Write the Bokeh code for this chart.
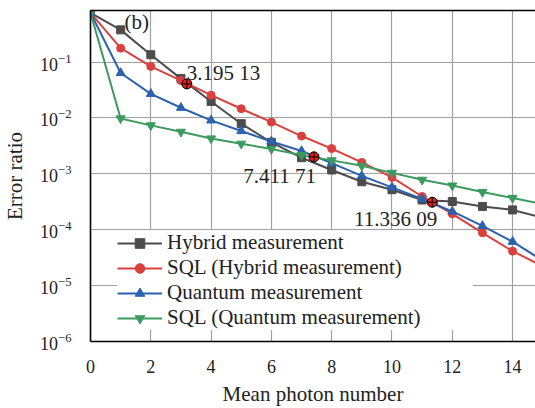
from bokeh.plotting import figure
from bokeh.models import Range1d, FixedTicker, Legend, LegendItem, Label, LinearAxis, LogTickFormatter
from bokeh.embed import file_html
from bokeh.resources import INLINE

# ---------------- data ----------------
photon_number = [0, 1, 2, 3, 4, 5, 6, 7, 8, 9, 10, 11, 12, 13, 14, 15]
hybrid = [0.76, 0.376, 0.135, 0.0505, 0.0197, 0.00788, 0.00366, 0.00194, 0.00117,
          7.21e-4, 5.19e-4, 3.40e-4, 3.20e-4, 2.61e-4, 2.26e-4, 1.63e-4]
sql_hybrid = [0.76, 0.177, 0.0835, 0.0465, 0.0255, 0.0146, 0.00841, 0.00474, 0.00283,
              0.00160, 8.63e-4, 3.93e-4, 1.92e-4, 8.81e-5, 4.13e-5, 2.23e-5]
quantum = [0.76, 0.0637, 0.0270, 0.0152, 0.00904, 0.00582, 0.00379, 0.00256, 0.00155,
           9.2e-4, 5.73e-4, 3.55e-4, 2.12e-4, 1.17e-4, 6.10e-5, 2.80e-5]
sql_quantum = [0.76, 0.0098, 0.00736, 0.00564, 0.00428, 0.00345, 0.00278, 0.00216, 0.00174,
               0.00139, 0.00104, 7.81e-4, 6.16e-4, 4.72e-4, 3.70e-4, 2.89e-4]
cross_x = [3.19513, 7.41171, 11.33609]
cross_y = [0.0406, 0.00201, 3.10e-4]
cross_labels = ["3.195 13", "7.411 71", "11.336 09"]
series_names = ["Hybrid measurement", "SQL (Hybrid measurement)",
                "Quantum measurement", "SQL (Quantum measurement)"]
x_ticks = [0, 2, 4, 6, 8, 10, 12, 14]
y_ticks = [1e-6, 1e-5, 1e-4, 1e-3, 1e-2, 1e-1]
panel_tag = "(b)"
x_title = "Mean photon number"
y_title = "Error ratio"

# ---------------- style ----------------
FONT = "Liberation Serif"
colors = ["#4c4c4c", "#d9403e", "#2b62ad", "#3d9a5e"]
markers = ["square", "circle", "triangle", "inverted_triangle"]
msizes = [8, 8, 9, 9]

p = figure(width=535, height=408, output_backend="svg", toolbar_location=None,
           y_axis_type="log",
           x_range=Range1d(0, 14.76), y_range=Range1d(1e-6, 0.835),
           min_border_left=90, min_border_right=0, min_border_top=10, min_border_bottom=65)
p.outline_line_color = None
p.background_fill_color = "white"
p.border_fill_color = "white"

# grid
p.xgrid.ticker = FixedTicker(ticks=x_ticks)
p.ygrid.ticker = FixedTicker(ticks=y_ticks)
for g in (p.xgrid, p.ygrid):
    g.grid_line_color = "#a0a0a0"
    g.grid_line_width = 1.2
    g.minor_grid_line_color = None

# axes
xa = p.xaxis[0]
ya = p.yaxis[0]
xa.ticker = FixedTicker(ticks=x_ticks)
ya.ticker = FixedTicker(ticks=y_ticks)
ya.formatter = LogTickFormatter()
for ax in (xa, ya):
    ax.axis_line_color = "black"
    ax.axis_line_width = 1.6
    ax.major_tick_line_color = None
    ax.minor_tick_line_color = None
    ax.major_label_text_font = FONT
    ax.major_label_text_font_size = "18px"
    ax.major_label_text_color = "#222222"
    ax.axis_label_text_font = FONT
    ax.axis_label_text_font_size = "21px"
    ax.axis_label_text_font_style = "normal"
    ax.axis_label_text_color = "#222222"
xa.axis_label = x_title
ya.axis_label = y_title
xa.major_label_standoff = 12
xa.axis_label_standoff = 6
ya.major_label_standoff = 13
ya.axis_label_standoff = 10

top = LinearAxis(ticker=FixedTicker(ticks=[]), axis_line_color="black", axis_line_width=1.6,
                 major_tick_line_color=None, minor_tick_line_color=None,
                 major_label_text_font_size="0px", major_label_standoff=0)
p.add_layout(top, "above")

# series
ys = [hybrid, sql_hybrid, quantum, sql_quantum]
items = []
for y, c, m, s, name in zip(ys, colors, markers, msizes, series_names):
    r1 = p.line(photon_number, y, line_color=c, line_width=2)
    r2 = p.scatter(photon_number, y, marker=m, size=s, fill_color=c, line_color=c, line_width=1)
    items.append(LegendItem(label=name, renderers=[r1, r2]))

# crossing points
p.scatter(cross_x, cross_y, marker="circle_cross", size=10, fill_color="#e0201c",
          line_color="black", line_width=1)

offsets = [(0, 11, "left"), (2, -19, "right"), (5, -17, "right")]
for cx, cy, txt, (dx, dy, al) in zip(cross_x, cross_y, cross_labels, offsets):
    p.add_layout(Label(x=cx, y=cy, x_offset=dx, y_offset=dy, text=txt, text_font=FONT,
                       text_font_size="21px", text_align=al, text_baseline="middle",
                       text_color="#222222"))

p.add_layout(Label(x=1.13, y=0.52, text=panel_tag, text_font=FONT, text_font_size="21px",
                   text_align="left", text_baseline="middle", text_color="#222222"))

legend = Legend(items=items, location=(27, 11), padding=0, spacing=0, margin=0,
                glyph_width=45, glyph_height=24, label_height=24, label_width=306,
                label_standoff=5, label_text_font=FONT, label_text_font_size="21px",
                label_text_color="#222222", border_line_color=None,
                background_fill_color="white", background_fill_alpha=1.0)
p.add_layout(legend)

open("out.html", "w").write(file_html(p, INLINE))
